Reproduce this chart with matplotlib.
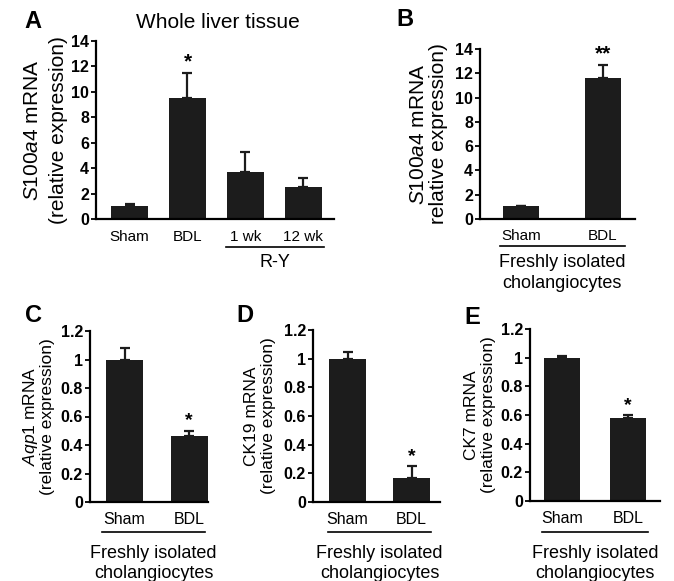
import matplotlib
matplotlib.use('Agg')
import matplotlib.pyplot as plt

plt.rcParams['font.family'] = ['Liberation Sans', 'DejaVu Sans']
plt.rcParams['mathtext.fontset'] = 'custom'
plt.rcParams['mathtext.it'] = 'Liberation Sans:italic'
plt.rcParams['mathtext.rm'] = 'Liberation Sans'

# data
a_groups = ['Sham', 'BDL', '1 wk', '12 wk']
a_values = [1.05, 9.5, 3.7, 2.55]
a_errors = [0.1, 2.0, 1.6, 0.65]
a_stars = ['', '*', '', '']

b_groups = ['Sham', 'BDL']
b_values = [1.03, 11.65]
b_errors = [0.07, 1.05]
b_stars = ['', '**']

c_groups = ['Sham', 'BDL']
c_values = [1.0, 0.46]
c_errors = [0.08, 0.04]
c_stars = ['', '*']

d_groups = ['Sham', 'BDL']
d_values = [1.0, 0.17]
d_errors = [0.045, 0.08]
d_stars = ['', '*']

e_groups = ['Sham', 'BDL']
e_values = [1.0, 0.58]
e_errors = [0.01, 0.02]
e_stars = ['', '*']

big_ticks = [0, 2, 4, 6, 8, 10, 12, 14]
big_tick_labels = ['0', '2', '4', '6', '8', '10', '12', '14']
small_ticks = [0, 0.2, 0.4, 0.6, 0.8, 1.0, 1.2]
small_tick_labels = ['0', '0.2', '0.4', '0.6', '0.8', '1', '1.2']

W, H = 674, 581
fig = plt.figure(figsize=(W / 100, H / 100), dpi=100)
bar_color = '#1c1c1c'


def make_panel(rect, groups, values, errors, stars, ticks, tick_labels, ymax,
               xlim, width, letter, letter_xy, ylab1, ylab2, ylab_size,
               lab_x, cat_size, cat_pad, star_size):
    l, r, t, b = rect
    ax = fig.add_axes([l / W, 1 - b / H, (r - l) / W, (b - t) / H])
    x = list(range(len(groups)))
    ax.bar(x, values, width=width, color=bar_color, zorder=2)
    ax.errorbar(x, values, yerr=[[0] * len(errors), errors], fmt='none',
                ecolor=bar_color, elinewidth=1.6, capsize=3.5, capthick=1.6, zorder=1)
    for xi, v, e, s in zip(x, values, errors, stars):
        if s:
            ax.annotate(s, (xi, v + e), xytext=(0, 1), textcoords='offset points',
                        ha='center', va='bottom', fontsize=star_size, fontweight='bold')
    ax.set_xlim(*xlim)
    ax.set_ylim(0, ymax)
    ax.set_yticks(ticks)
    ax.set_yticklabels(tick_labels, fontweight='bold', fontsize=11.5)
    ax.set_xticks(x)
    ax.set_xticklabels(groups, fontsize=cat_size)
    ax.tick_params(axis='x', length=0, pad=cat_pad)
    ax.tick_params(axis='y', length=3.5, width=1.3, pad=1.5, direction='out')
    for side in ['top', 'right']:
        ax.spines[side].set_visible(False)
    for side in ['left', 'bottom']:
        ax.spines[side].set_linewidth(1.6)
    fig.text(letter_xy[0] / W, 1 - letter_xy[1] / H, letter, fontsize=17,
             fontweight='heavy', ha='center', va='center')
    yc = 1 - (t + b) / 2 / H
    fig.text((l - lab_x[0]) / W, yc, ylab1, rotation=90, fontsize=ylab_size,
             ha='center', va='center')
    fig.text((l - lab_x[1]) / W, yc, ylab2, rotation=90, fontsize=ylab_size,
             ha='center', va='center')
    return ax


def group_line(ax, x0, x1, ypx, text_lines, text_y, size=13):
    rect_h = ax.get_position().height * H
    y = -ypx / rect_h
    ax.plot([x0, x1], [y, y], transform=ax.get_xaxis_transform(), color='black',
            lw=1.2, clip_on=False)
    for i, s in enumerate(text_lines):
        ax.text((x0 + x1) / 2, -(text_y + i * 21) / rect_h, s,
                transform=ax.get_xaxis_transform(), ha='center', va='center',
                fontsize=size)


axA = make_panel((96, 334, 41, 219), a_groups, a_values, a_errors, a_stars,
                 big_ticks, big_tick_labels, 14, (-0.58, 3.53), 0.63,
                 'A', (33, 21), r'$\mathit{S100a4}$ mRNA', '(relative expression)', 15,
                 (63, 38), 11, 8, 15)
fig.text(218 / W, 1 - 22 / H, 'Whole liver tissue', fontsize=15, ha='center', va='center')
group_line(axA, 1.67, 3.35, 28, ['R-Y'], 44)

axB = make_panel((480, 635, 49, 219), b_groups, b_values, b_errors, b_stars,
                 big_ticks, big_tick_labels, 14, (-0.5, 1.39), 0.43,
                 'B', (405, 20), r'$\mathit{S100a4}$ mRNA', 'relative expression)', 15,
                 (62, 42), 11, 7, 15)
group_line(axB, -0.26, 1.27, 27, ['Freshly isolated', 'cholangiocytes'], 44)

axC = make_panel((90, 208, 331, 502), c_groups, c_values, c_errors, c_stars,
                 small_ticks, small_tick_labels, 1.2, (-0.535, 1.29), 0.57,
                 'C', (34, 315), r'$\mathit{Aqp1}$ mRNA', '(relative expression)', 12.5,
                 (59, 42), 11.5, 7, 14)
group_line(axC, -0.35, 1.25, 30, ['Freshly isolated', 'cholangiocytes'], 51)

axD = make_panel((313, 440, 330, 502), d_groups, d_values, d_errors, d_stars,
                 small_ticks, small_tick_labels, 1.2, (-0.54, 1.445), 0.58,
                 'D', (245, 315), 'CK19 mRNA', '(relative expression)', 12.5,
                 (62, 45), 11.5, 7, 14)
group_line(axD, -0.3, 1.3, 30, ['Freshly isolated', 'cholangiocytes'], 51)

axE = make_panel((530, 660, 329, 501), e_groups, e_values, e_errors, e_stars,
                 small_ticks, small_tick_labels, 1.2, (-0.485, 1.485), 0.545,
                 'E', (472, 317), 'CK7 mRNA', '(relative expression)', 12.5,
                 (59, 42), 11.5, 7, 14)
group_line(axE, -0.3, 1.3, 31, ['Freshly isolated', 'cholangiocytes'], 52)

fig.savefig('out.png', dpi=100)
